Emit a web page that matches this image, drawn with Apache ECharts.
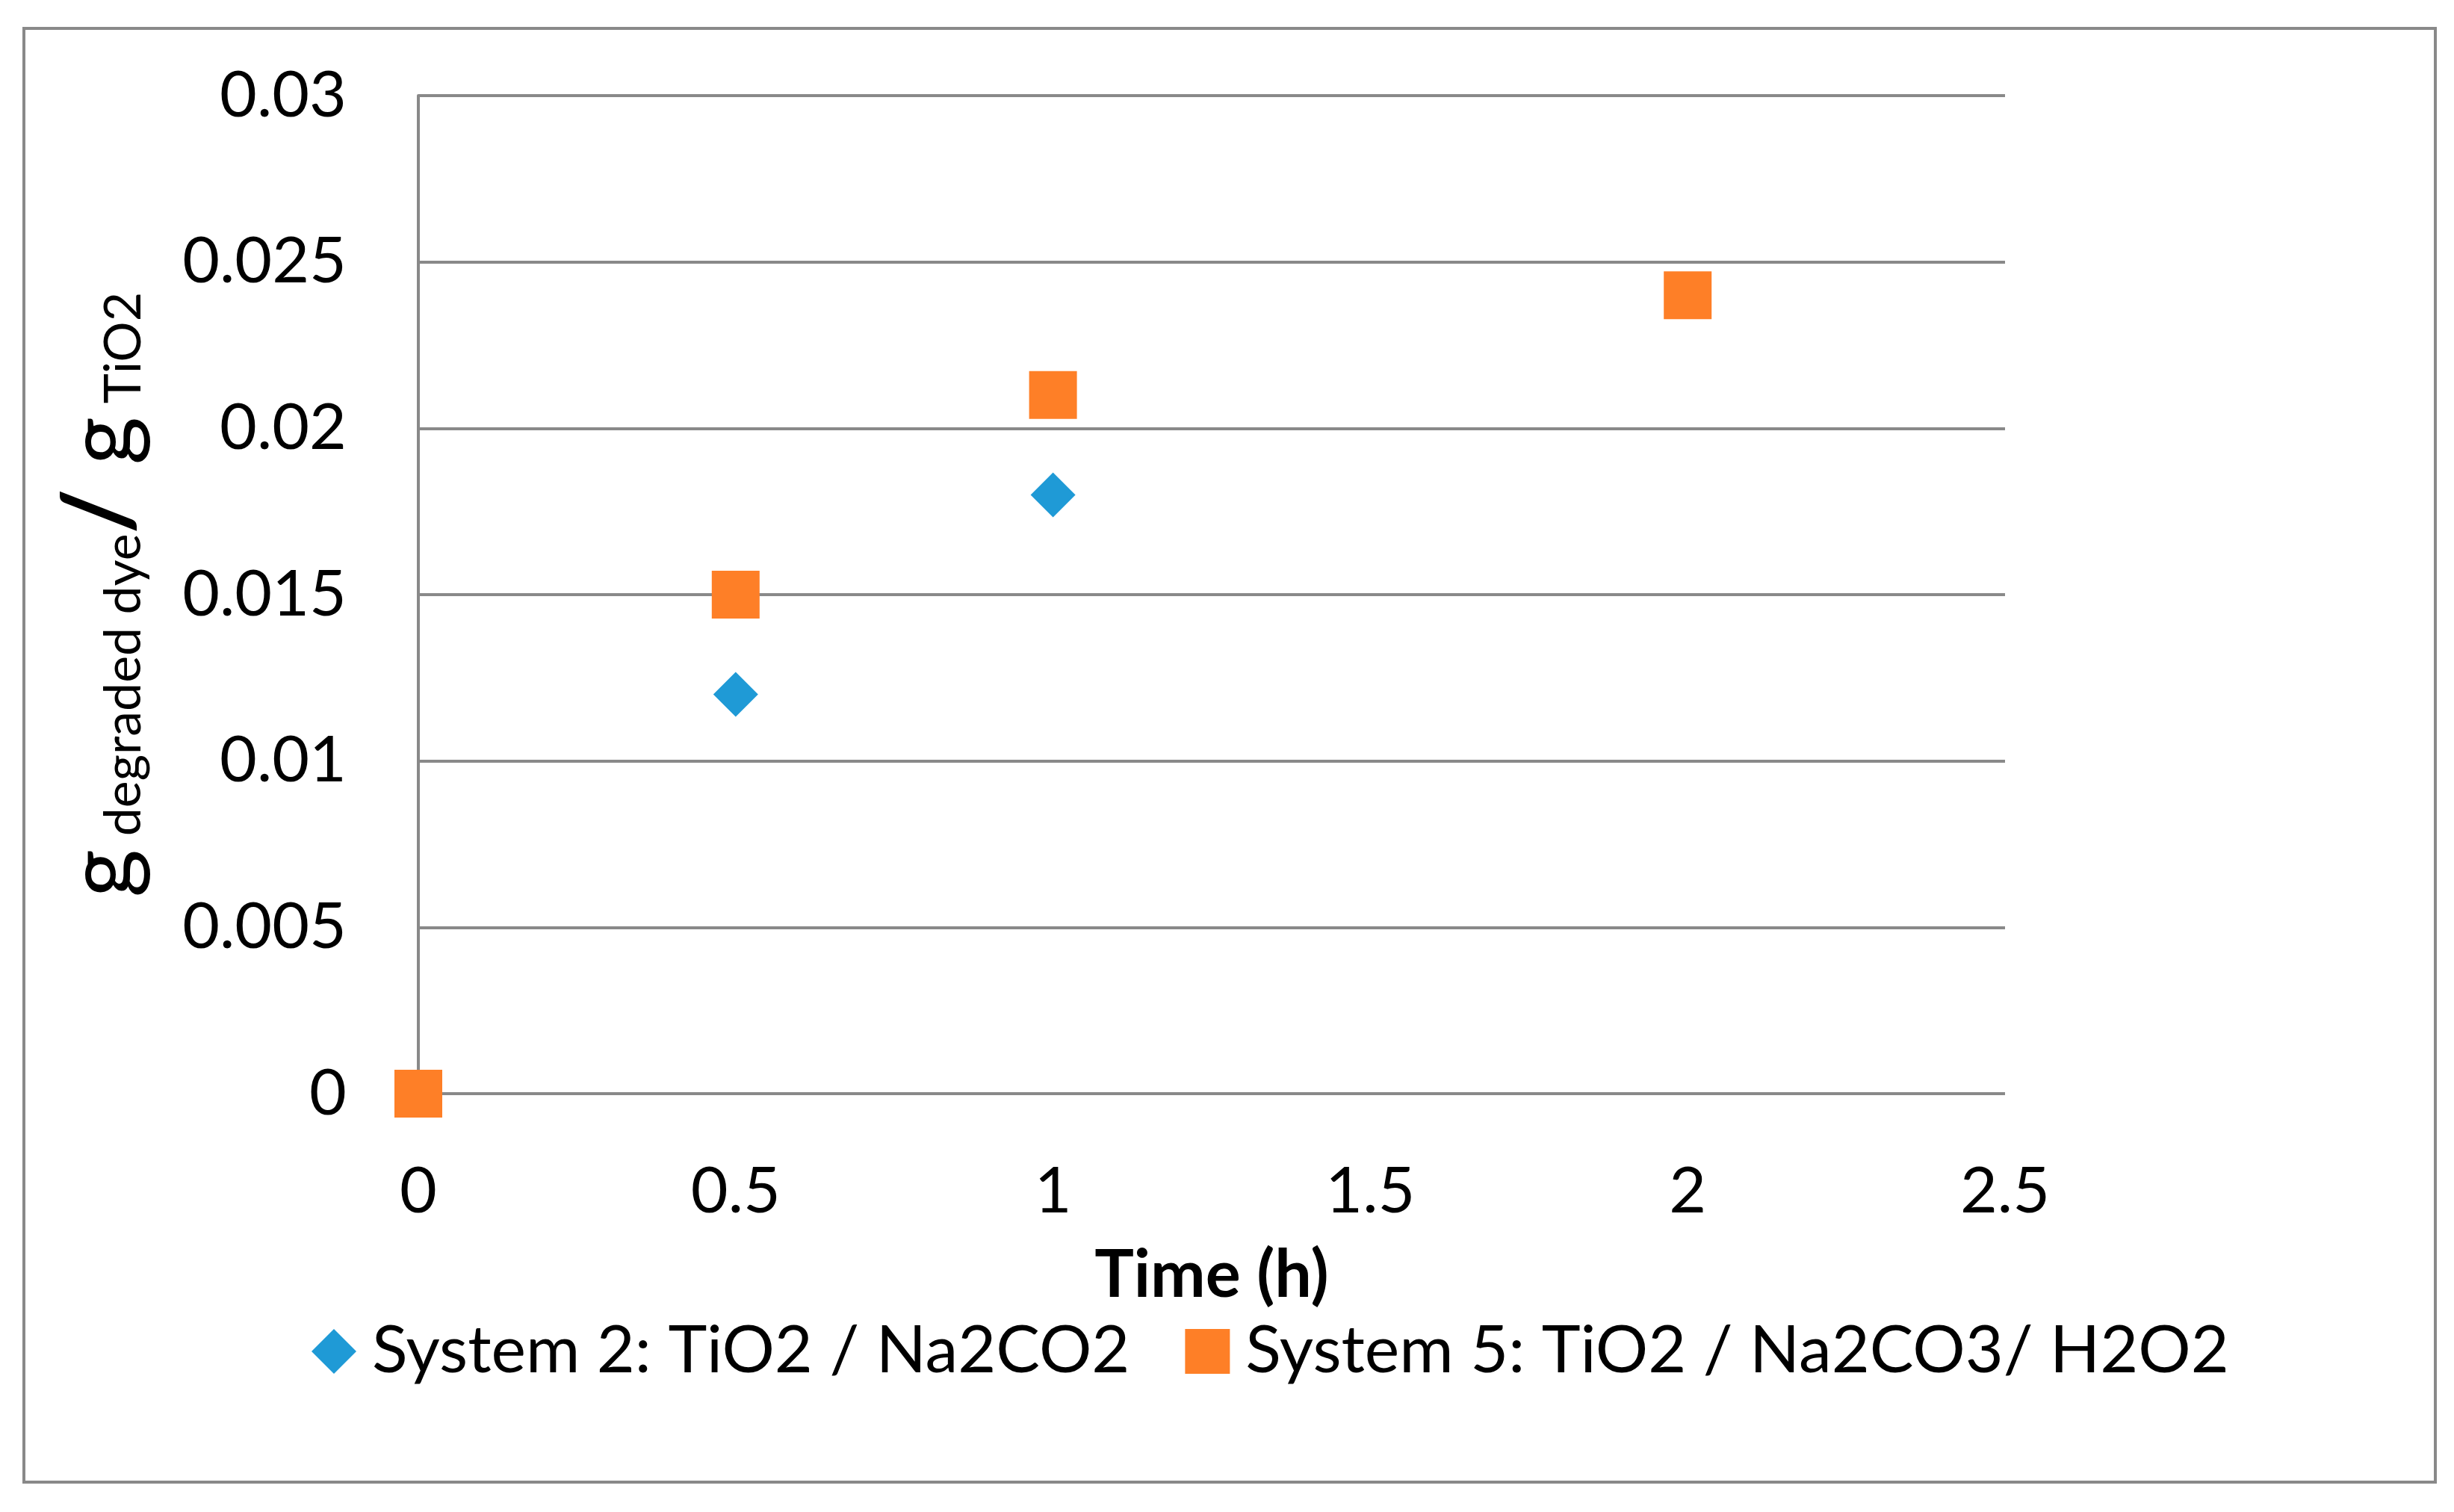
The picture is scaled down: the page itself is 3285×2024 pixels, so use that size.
<!DOCTYPE html>
<html><head><meta charset="utf-8">
<script src="https://cdn.jsdelivr.net/npm/echarts@6/dist/echarts.min.js"></script>
<style>html,body{margin:0;padding:0;background:#fff}#c{width:3285px;height:2024px}</style>
</head><body><div id="c"></div>
<script>
const xTicks = [0, 0.5, 1, 1.5, 2, 2.5];
const yTicks = [0, 0.005, 0.01, 0.015, 0.02, 0.025, 0.03];
const seriesNames = ['System 2: TiO2 / Na2CO2', 'System 5: TiO2 / Na2CO3/ H2O2'];
const time2 = [0, 0.5, 1];
const vals2 = [0, 0.012, 0.018];
const time5 = [0, 0.5, 1, 2];
const vals5 = [0, 0.015, 0.021, 0.024];

const FONT = 'Lato';
const GRID = '#898989';
const chart = echarts.init(document.getElementById('c'));
chart.setOption({
  animation: false,
  textStyle: { fontFamily: FONT, color: '#000' },
  graphic: [{
    type: 'rect', shape: { x: 32, y: 38, width: 3228, height: 1946 },
    style: { fill: 'none', stroke: GRID, lineWidth: 4 }, z: -1
  }],
  grid: { left: 560, right: 601, top: 128, bottom: 560, containLabel: false },
  legend: {
    left: 412, top: 1760, itemWidth: 60, itemHeight: 60, itemGap: 74,
    textStyle: { fontFamily: FONT, fontSize: 88, color: '#000', padding: [0, 0, 0, 16] },
    data: [{ name: seriesNames[0], icon: 'diamond' }, { name: seriesNames[1], icon: 'rect' }]
  },
  xAxis: {
    type: 'value', min: xTicks[0], max: xTicks[xTicks.length - 1], interval: 0.5,
    name: 'Time (h)', nameLocation: 'middle', nameGap: 200,
    nameTextStyle: { fontFamily: FONT, fontSize: 88, fontWeight: 'bold', color: '#000' },
    axisLine: { show: false }, axisTick: { show: false },
    splitLine: { show: false },
    axisLabel: { fontSize: 86, color: '#000', margin: 88, fontFamily: FONT }
  },
  yAxis: {
    type: 'value', min: yTicks[0], max: yTicks[yTicks.length - 1], interval: 0.005,
    name: '{g|g}{s| degraded dye}{sl|/ }{g|g}{s| TiO2}',
    nameLocation: 'middle', nameRotate: 90, nameGap: 360,
    nameTextStyle: {
      fontFamily: FONT, color: '#000',
      rich: {
        g: { fontSize: 124, fontFamily: FONT, color: '#000', verticalAlign: 'bottom' },
        s: { fontSize: 68, fontFamily: FONT, color: '#000', verticalAlign: 'bottom' },
        sl: { fontSize: 130, fontFamily: FONT, fontWeight: 'bold', color: '#000', verticalAlign: 'bottom' }
      }
    },
    axisLine: { show: true, lineStyle: { color: GRID, width: 4 } },
    axisTick: { show: false },
    splitLine: { show: true, lineStyle: { color: GRID, width: 4 } },
    axisLabel: {
      fontSize: 86, color: '#000', margin: 96, fontFamily: FONT,
      formatter: v => String(parseFloat(v.toFixed(4)))
    }
  },
  series: [
    {
      name: seriesNames[0], type: 'scatter', symbol: 'diamond', symbolSize: 60,
      itemStyle: { color: '#1f9ad6', opacity: 1 },
      data: time2.map((t, i) => [t, vals2[i]]), z: 2
    },
    {
      name: seriesNames[1], type: 'scatter', symbol: 'rect', symbolSize: 64,
      itemStyle: { color: '#fe7f27', opacity: 1 },
      data: time5.map((t, i) => [t, vals5[i]]), z: 3
    }
  ]
});
</script></body></html>
